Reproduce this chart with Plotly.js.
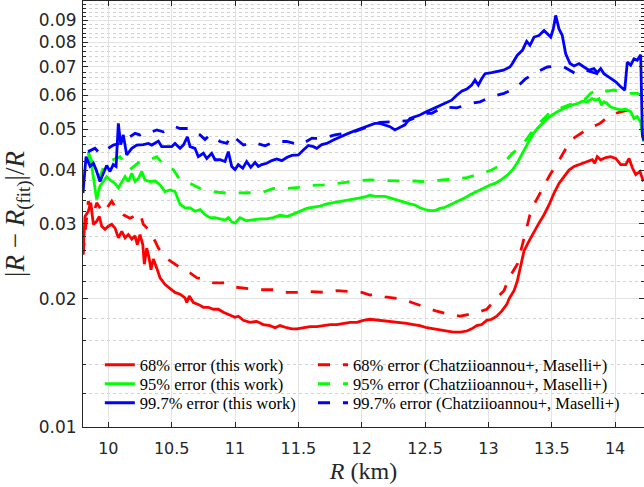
<!DOCTYPE html>
<html>
<head>
<meta charset="utf-8">
<script src="https://cdn.plot.ly/plotly-3.0.1.min.js"></script>
<style>html,body{margin:0;padding:0;background:#fff;}#chart{width:644px;height:487px;}</style>
</head>
<body>
<div id="chart"></div>
<script>
// ---- data (R in km, relative error) ----
const r997This = [9.800,9.824,9.856,9.882,9.903,9.934,9.961,9.987,10.013,10.039,10.061,10.079,10.098,10.118,10.145,10.185,10.224,10.276,10.316,10.343,10.395,10.421,10.461,10.500,10.526,10.566,10.592,10.624,10.645,10.684,10.710,10.750,10.777,10.816,10.842,10.882,10.921,10.947,10.974,11.000,11.026,11.061,11.092,11.124,11.158,11.184,11.211,11.250,11.290,11.329,11.369,11.408,11.448,11.500,11.539,11.579,11.618,11.645,11.684,11.724,11.776,11.829,11.894,11.961,12.013,12.065,12.104,12.144,12.183,12.223,12.262,12.302,12.341,12.381,12.420,12.459,12.513,12.565,12.618,12.671,12.710,12.750,12.789,12.829,12.868,12.894,12.920,12.947,12.973,13.026,13.078,13.118,13.170,13.189,13.228,13.268,13.302,13.328,13.360,13.399,13.439,13.465,13.492,13.512,13.531,13.557,13.583,13.610,13.644,13.676,13.715,13.754,13.794,13.833,13.859,13.886,13.912,13.951,14.005,14.044,14.076,14.096,14.123,14.149,14.175,14.202,14.215,14.228];
const e997This = [0.0354,0.0431,0.0409,0.0416,0.0402,0.0377,0.0394,0.0411,0.0398,0.0413,0.0409,0.0516,0.0460,0.0485,0.0435,0.0451,0.0459,0.0460,0.0463,0.0459,0.0469,0.0455,0.0455,0.0455,0.0463,0.0451,0.0459,0.0480,0.0455,0.0451,0.0431,0.0439,0.0427,0.0439,0.0424,0.0424,0.0420,0.0443,0.0409,0.0402,0.0413,0.0405,0.0420,0.0407,0.0418,0.0409,0.0413,0.0416,0.0422,0.0426,0.0422,0.0429,0.0434,0.0435,0.0447,0.0458,0.0455,0.0451,0.0460,0.0463,0.0472,0.0480,0.0489,0.0498,0.0504,0.0512,0.0516,0.0516,0.0512,0.0507,0.0498,0.0504,0.0512,0.0530,0.0535,0.0540,0.0550,0.0559,0.0570,0.0580,0.0585,0.0601,0.0614,0.0621,0.0635,0.0652,0.0635,0.0657,0.0675,0.0679,0.0684,0.0688,0.0700,0.0713,0.0746,0.0766,0.0804,0.0787,0.0823,0.0830,0.0853,0.0837,0.0823,0.0860,0.0925,0.0860,0.0830,0.0752,0.0713,0.0704,0.0713,0.0700,0.0688,0.0694,0.0679,0.0694,0.0675,0.0663,0.0646,0.0629,0.0618,0.0719,0.0707,0.0732,0.0726,0.0748,0.0485,0.0470];

const r997Prev = [9.840,9.895,9.934,10.000,10.039,10.092,10.132,10.211,10.250,10.303,10.343,10.382,10.434,10.474,10.526,10.566,10.645,10.684,10.724,10.763,10.803,10.842,10.882,10.934,10.974,11.066,11.144,11.237,11.316,11.408,11.513,11.605,11.697,11.789,11.934,12.065,12.144,12.276,12.365,12.513,12.553,12.642,12.750,12.855,12.934,13.026,13.123,13.216,13.294,13.373,13.465,13.544,13.597,13.689,13.768,13.859,13.940];
const e997Prev = [0.0443,0.0451,0.0438,0.0451,0.0459,0.0463,0.0472,0.0489,0.0485,0.0495,0.0493,0.0498,0.0493,0.0502,0.0507,0.0502,0.0502,0.0493,0.0485,0.0473,0.0485,0.0476,0.0468,0.0463,0.0485,0.0459,0.0466,0.0457,0.0468,0.0468,0.0459,0.0476,0.0476,0.0485,0.0493,0.0508,0.0519,0.0521,0.0524,0.0545,0.0545,0.0564,0.0561,0.0574,0.0580,0.0596,0.0607,0.0624,0.0657,0.0679,0.0700,0.0704,0.0700,0.0675,0.0688,0.0675,0.0665];

const r95This = [9.842,9.869,9.908,9.934,9.961,9.987,10.013,10.053,10.079,10.106,10.132,10.158,10.185,10.211,10.237,10.264,10.290,10.329,10.369,10.408,10.448,10.487,10.526,10.566,10.605,10.645,10.684,10.724,10.763,10.803,10.842,10.882,10.921,10.947,10.974,11.000,11.039,11.092,11.144,11.197,11.250,11.302,11.355,11.408,11.460,11.513,11.566,11.618,11.671,11.724,11.776,11.829,11.882,11.934,11.987,12.039,12.065,12.104,12.144,12.183,12.223,12.262,12.302,12.341,12.381,12.420,12.459,12.500,12.538,12.578,12.618,12.657,12.697,12.736,12.776,12.815,12.855,12.894,12.934,12.973,13.013,13.052,13.097,13.149,13.189,13.228,13.268,13.307,13.347,13.386,13.425,13.465,13.504,13.544,13.583,13.623,13.662,13.702,13.741,13.781,13.820,13.847,13.873,13.891,13.912,13.938,13.965,14.005,14.044,14.084,14.123,14.149,14.175,14.202,14.223];
const e95This = [0.0438,0.0409,0.0342,0.0368,0.0377,0.0387,0.0380,0.0373,0.0364,0.0377,0.0387,0.0377,0.0394,0.0377,0.0383,0.0398,0.0380,0.0377,0.0378,0.0370,0.0357,0.0360,0.0357,0.0333,0.0327,0.0327,0.0321,0.0324,0.0315,0.0310,0.0310,0.0308,0.0306,0.0310,0.0303,0.0301,0.0310,0.0305,0.0307,0.0308,0.0308,0.0310,0.0314,0.0312,0.0316,0.0321,0.0326,0.0328,0.0330,0.0334,0.0336,0.0339,0.0341,0.0343,0.0345,0.0348,0.0350,0.0348,0.0348,0.0348,0.0345,0.0342,0.0340,0.0336,0.0334,0.0332,0.0327,0.0324,0.0322,0.0322,0.0326,0.0328,0.0332,0.0336,0.0340,0.0345,0.0351,0.0356,0.0360,0.0365,0.0370,0.0373,0.0380,0.0390,0.0401,0.0417,0.0439,0.0463,0.0485,0.0502,0.0516,0.0530,0.0540,0.0550,0.0557,0.0564,0.0570,0.0574,0.0582,0.0580,0.0590,0.0585,0.0590,0.0570,0.0580,0.0574,0.0564,0.0559,0.0555,0.0557,0.0550,0.0530,0.0535,0.0519,0.0468];

const r95Prev = [9.840,9.880,9.934,9.974,10.037,10.092,10.171,10.250,10.329,10.382,10.448,10.513,10.566,10.645,10.724,10.816,10.934,11.063,11.211,11.302,11.408,11.500,11.605,11.697,11.803,11.894,12.000,12.065,12.223,12.316,12.421,12.526,12.631,12.736,12.829,12.920,13.026,13.118,13.189,13.268,13.334,13.399,13.492,13.571,13.662,13.768,13.807,13.857,13.899,13.991,14.096,14.175,14.228];
const e95Prev = [0.0443,0.0413,0.0387,0.0416,0.0424,0.0431,0.0402,0.0420,0.0424,0.0431,0.0409,0.0402,0.0380,0.0373,0.0363,0.0357,0.0354,0.0354,0.0355,0.0363,0.0363,0.0365,0.0369,0.0370,0.0373,0.0377,0.0379,0.0380,0.0378,0.0378,0.0378,0.0376,0.0380,0.0382,0.0385,0.0392,0.0401,0.0416,0.0439,0.0459,0.0489,0.0516,0.0550,0.0561,0.0574,0.0590,0.0607,0.0619,0.0612,0.0618,0.0607,0.0607,0.0596];

const r68This = [9.800,9.816,9.842,9.861,9.882,9.908,9.929,9.948,9.974,10.000,10.027,10.053,10.079,10.106,10.132,10.158,10.185,10.211,10.229,10.250,10.272,10.284,10.303,10.321,10.337,10.355,10.382,10.408,10.448,10.487,10.526,10.566,10.605,10.619,10.639,10.671,10.710,10.750,10.789,10.829,10.868,10.908,10.947,11.000,11.026,11.066,11.118,11.171,11.223,11.276,11.316,11.355,11.408,11.448,11.487,11.539,11.592,11.645,11.697,11.750,11.803,11.855,11.908,11.961,12.013,12.065,12.144,12.197,12.249,12.302,12.355,12.407,12.459,12.513,12.565,12.618,12.671,12.723,12.776,12.829,12.868,12.908,12.947,12.987,13.026,13.066,13.105,13.145,13.163,13.202,13.228,13.255,13.281,13.320,13.360,13.399,13.439,13.478,13.518,13.557,13.597,13.636,13.676,13.715,13.754,13.794,13.820,13.839,13.859,13.886,13.926,13.965,14.005,14.044,14.084,14.110,14.136,14.163,14.197,14.223];
const e68This = [0.0254,0.0312,0.0321,0.0336,0.0299,0.0304,0.0312,0.0296,0.0291,0.0296,0.0299,0.0293,0.0278,0.0288,0.0278,0.0283,0.0276,0.0281,0.0268,0.0283,0.0268,0.0241,0.0263,0.0250,0.0234,0.0248,0.0236,0.0224,0.0216,0.0211,0.0207,0.0205,0.0201,0.0196,0.0203,0.0196,0.0194,0.0191,0.0191,0.0189,0.0189,0.0186,0.0184,0.0181,0.0182,0.0178,0.0176,0.0177,0.0174,0.0173,0.0171,0.0173,0.0171,0.0170,0.0170,0.0171,0.0172,0.0172,0.0173,0.0174,0.0174,0.0175,0.0176,0.0176,0.0178,0.0179,0.0178,0.0177,0.0177,0.0176,0.0175,0.0174,0.0173,0.0171,0.0170,0.0169,0.0168,0.0167,0.0167,0.0168,0.0170,0.0173,0.0174,0.0178,0.0179,0.0182,0.0187,0.0194,0.0200,0.0209,0.0220,0.0241,0.0259,0.0273,0.0288,0.0301,0.0315,0.0332,0.0354,0.0373,0.0387,0.0401,0.0409,0.0413,0.0416,0.0420,0.0424,0.0416,0.0431,0.0424,0.0429,0.0431,0.0427,0.0413,0.0413,0.0427,0.0406,0.0391,0.0398,0.0377];

const r68Prev = [9.800,9.816,9.842,9.882,9.908,9.961,10.027,10.066,10.118,10.171,10.250,10.276,10.316,10.369,10.395,10.448,10.526,10.592,10.645,10.698,10.763,10.829,10.921,11.000,11.118,11.197,11.316,11.395,11.513,11.592,11.711,11.803,11.908,12.000,12.065,12.092,12.184,12.302,12.395,12.500,12.592,12.684,12.776,12.894,12.987,13.066,13.123,13.163,13.228,13.289,13.328,13.367,13.433,13.486,13.552,13.605,13.670,13.736,13.789,13.881,13.960,14.052,14.131];
const e68Prev = [0.0254,0.0281,0.0339,0.0315,0.0336,0.0318,0.0339,0.0324,0.0315,0.0309,0.0318,0.0299,0.0291,0.0273,0.0263,0.0250,0.0241,0.0234,0.0230,0.0224,0.0222,0.0218,0.0218,0.0213,0.0211,0.0210,0.0210,0.0207,0.0207,0.0208,0.0207,0.0209,0.0208,0.0207,0.0204,0.0205,0.0202,0.0200,0.0196,0.0191,0.0187,0.0184,0.0182,0.0185,0.0189,0.0201,0.0209,0.0224,0.0241,0.0283,0.0315,0.0336,0.0364,0.0391,0.0420,0.0447,0.0476,0.0489,0.0502,0.0516,0.0540,0.0550,0.0557];

const seriesNames = ['68% error (this work)', '68% error (Chatziioannou+, Maselli+)',
                     '95% error (this work)', '95% error (Chatziioannou+, Maselli+)',
                     '99.7% error (this work)', '99.7% error (Chatziioannou+, Maselli+)'];
const xTickVals = [10, 10.5, 11, 11.5, 12, 12.5, 13, 13.5, 14];
const xTickText = ['10', '10.5', '11', '11.5', '12', '12.5', '13', '13.5', '14'];
const yTickVals = [0.01, 0.02, 0.03, 0.04, 0.05, 0.06, 0.07, 0.08, 0.09];
const yTickText = ['0.01', '0.02', '0.03', '0.04', '0.05', '0.06', '0.07', '0.08', '0.09'];
const yMinorVals = [];
for (let k = 6; k <= 49; k++) { if (k % 5 !== 0) yMinorVals.push(k * 0.002); }

// ---- drawing ----
const RED = '#ff0000', GREEN = '#00ff00', BLUE = '#0000ff';
const LW = 2.8;
const DASH = '12px,13px';
function tr(x, y, name, color, dash, leg) {
  return {x: x, y: y, name: name, type: 'scatter', mode: 'lines', legend: leg,
          line: {color: color, width: LW, dash: dash}, hoverinfo: 'skip'};
}
const data = [
  tr(r68This, e68This, seriesNames[0], RED, 'solid', 'legend'),
  tr(r68Prev, e68Prev, seriesNames[1], RED, DASH, 'legend2'),
  tr(r95This, e95This, seriesNames[2], GREEN, 'solid', 'legend3'),
  tr(r95Prev, e95Prev, seriesNames[3], GREEN, DASH, 'legend4'),
  tr(r997This, e997This, seriesNames[4], BLUE, 'solid', 'legend5'),
  tr(r997Prev, e997Prev, seriesNames[5], BLUE, DASH, 'legend6')
];

const AX = '#262626';
const legFont = {family: 'Liberation Serif', size: 16.5, color: '#000000'};
function leg(x, y) {
  return {orientation: 'v', x: x, xanchor: 'left', y: y, yanchor: 'middle',
          bgcolor: 'rgba(0,0,0,0)', borderwidth: 0, tracegroupgap: 0, font: legFont};
}
const colX = [0.030, 0.410];
const rowY = [0.1455, 0.1009, 0.0563];
const layout = {
  width: 644, height: 487,
  margin: {l: 83, r: 0, t: 1, b: 60, pad: 0},
  paper_bgcolor: '#ffffff', plot_bgcolor: '#ffffff',
  showlegend: true,
  legend: leg(colX[0], rowY[0]),
  legend2: leg(colX[1], rowY[0]),
  legend3: leg(colX[0], rowY[1]),
  legend4: leg(colX[1], rowY[1]),
  legend5: leg(colX[0], rowY[2]),
  legend6: leg(colX[1], rowY[2]),
  xaxis: {range: [9.8, 14.228], tickmode: 'array', tickvals: xTickVals, ticktext: xTickText,
          ticks: 'inside', ticklen: 5, tickcolor: AX, tickwidth: 1, ticklabelstandoff: 7,
          showline: true, linecolor: AX, linewidth: 1, mirror: 'ticks',
          showgrid: true, gridcolor: '#e3e3e3', gridwidth: 1, zeroline: false,
          tickfont: {family: 'DejaVu Sans', size: 16, color: AX},
          title: {text: '<i>R</i> (km)', standoff: 4,
                  font: {family: 'Liberation Serif', size: 24, color: AX}}},
  yaxis: {type: 'log', range: [-2, -1], tickmode: 'array', tickvals: yTickVals, ticktext: yTickText,
          ticks: 'inside', ticklen: 5, tickcolor: AX, tickwidth: 1, ticklabelstandoff: 2,
          showline: true, linecolor: AX, linewidth: 1, mirror: 'ticks',
          showgrid: true, gridcolor: '#e3e3e3', gridwidth: 1, zeroline: false,
          tickfont: {family: 'DejaVu Sans', size: 17, color: AX},
          minor: {tickmode: 'array', tickvals: yMinorVals, ticks: 'inside', ticklen: 3,
                  tickcolor: AX, showgrid: true, gridcolor: '#d2d2d2', griddash: 'dot', gridwidth: 1},
          title: {text: '|<i>R</i> − <i>R</i><sub>(fit)</sub>|/<i>R</i>', standoff: 6,
                  font: {family: 'Liberation Serif', size: 27, color: AX}}}
};
Plotly.newPlot('chart', data, layout, {displayModeBar: false, staticPlot: true});
</script>
</body>
</html>
